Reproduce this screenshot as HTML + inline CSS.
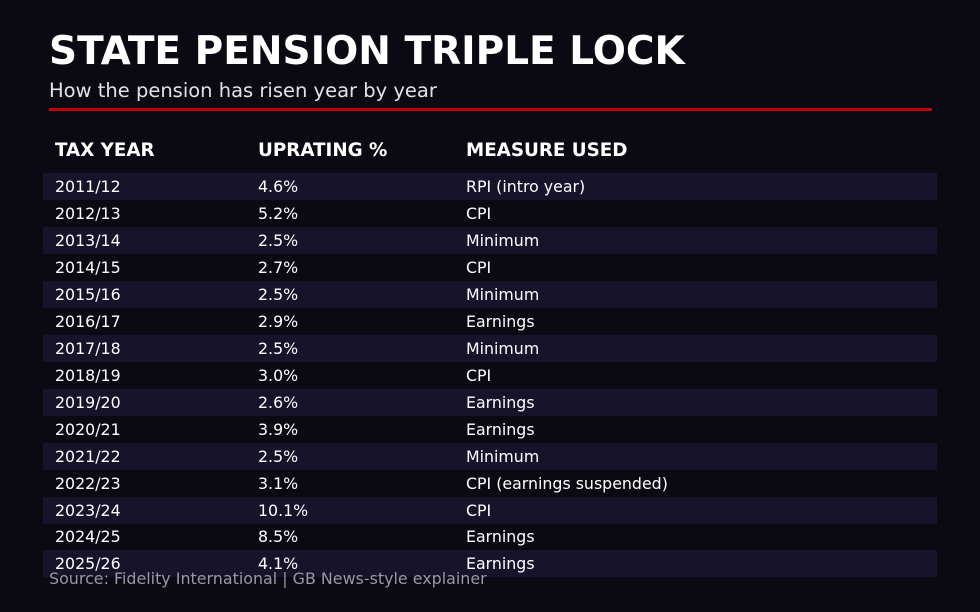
<!DOCTYPE html>
<html><head><style>
body{margin:0;width:980px;height:612px;background:#0b0912;font-family:"DejaVu Sans","Liberation Sans",sans-serif;color:#fff;position:relative;overflow:hidden}
.a{position:absolute;white-space:nowrap}
.t{left:49px;top:29px;font-size:39px;font-weight:bold}
.s{left:49px;top:79px;font-size:19.5px;color:#e2e2ea}
.r{left:49px;top:108px;width:883px;height:3px;background:#c0040c}
.h{top:140px;font-size:18.3px;font-weight:bold}
.row{position:absolute;left:43px;width:894px;height:27px;font-size:15.8px;line-height:28px}
.row span{position:absolute;top:0}
.o{background:#16132b}
.src{left:49px;top:569px;font-size:15.9px;color:#9a98a4}
</style></head><body>
<div class="a t">STATE PENSION TRIPLE LOCK</div>
<div class="a s">How the pension has risen year by year</div>
<div class="a r"></div>
<div class="a h" style="left:55px">TAX YEAR</div>
<div class="a h" style="left:258px">UPRATING %</div>
<div class="a h" style="left:466px">MEASURE USED</div>
<div class="row o" style="top:173px"><span style="left:12px">2011/12</span><span style="left:215px">4.6%</span><span style="left:423px">RPI (intro year)</span></div>
<div class="row" style="top:200px"><span style="left:12px">2012/13</span><span style="left:215px">5.2%</span><span style="left:423px">CPI</span></div>
<div class="row o" style="top:227px"><span style="left:12px">2013/14</span><span style="left:215px">2.5%</span><span style="left:423px">Minimum</span></div>
<div class="row" style="top:254px"><span style="left:12px">2014/15</span><span style="left:215px">2.7%</span><span style="left:423px">CPI</span></div>
<div class="row o" style="top:281px"><span style="left:12px">2015/16</span><span style="left:215px">2.5%</span><span style="left:423px">Minimum</span></div>
<div class="row" style="top:308px"><span style="left:12px">2016/17</span><span style="left:215px">2.9%</span><span style="left:423px">Earnings</span></div>
<div class="row o" style="top:335px"><span style="left:12px">2017/18</span><span style="left:215px">2.5%</span><span style="left:423px">Minimum</span></div>
<div class="row" style="top:362px"><span style="left:12px">2018/19</span><span style="left:215px">3.0%</span><span style="left:423px">CPI</span></div>
<div class="row o" style="top:389px"><span style="left:12px">2019/20</span><span style="left:215px">2.6%</span><span style="left:423px">Earnings</span></div>
<div class="row" style="top:416px"><span style="left:12px">2020/21</span><span style="left:215px">3.9%</span><span style="left:423px">Earnings</span></div>
<div class="row o" style="top:443px"><span style="left:12px">2021/22</span><span style="left:215px">2.5%</span><span style="left:423px">Minimum</span></div>
<div class="row" style="top:470px"><span style="left:12px">2022/23</span><span style="left:215px">3.1%</span><span style="left:423px">CPI (earnings suspended)</span></div>
<div class="row o" style="top:497px"><span style="left:12px">2023/24</span><span style="left:215px">10.1%</span><span style="left:423px">CPI</span></div>
<div class="row" style="top:523px"><span style="left:12px">2024/25</span><span style="left:215px">8.5%</span><span style="left:423px">Earnings</span></div>
<div class="row o" style="top:550px"><span style="left:12px">2025/26</span><span style="left:215px">4.1%</span><span style="left:423px">Earnings</span></div>
<div class="a src">Source: Fidelity International | GB News-style explainer</div>
</body></html>
